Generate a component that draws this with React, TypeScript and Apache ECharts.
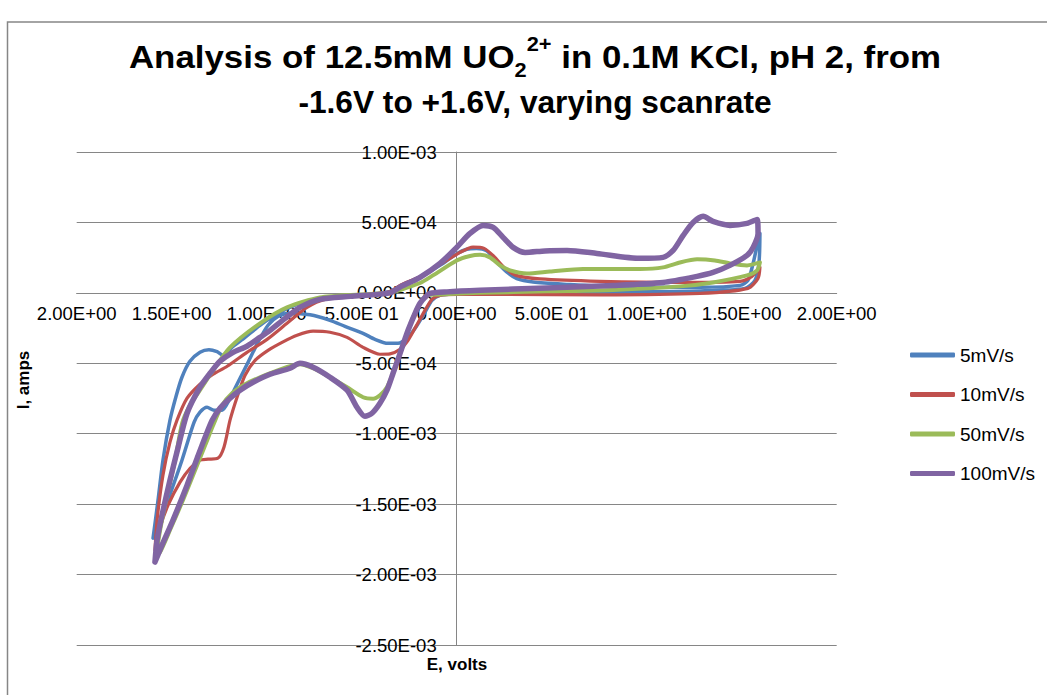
import React, { useEffect, useRef } from "react";
import * as echarts from "echarts";

// Tick labels as they appear in the picture
const xTickLabels = ["2.00E+00", "1.50E+00", "1.00E+00", "5.00E 01", "0.00E+00", "5.00E 01", "1.00E+00", "1.50E+00", "2.00E+00"];
const yTickLabels = ["-2.50E-03", "-2.00E-03", "-1.50E-03", "-1.00E-03", "-5.00E-04", "0.00E+00", "5.00E-04", "1.00E-03"];

const seriesNames = ["5mV/s", "10mV/s", "50mV/s", "100mV/s"];
const seriesColors = ["#4F81BD", "#C0504D", "#9BBB59", "#8064A2"];
const seriesWidths = [3.5, 3.2, 4, 5.5];

// [E (V), I (A)] — traced loops
const scan5: [number, number][] = [
  [-1.598, -1.741e-3], [-1.572, -1.472e-3], [-1.546, -1.188e-3], [-1.509, -9.04e-4], [-1.477, -7.34e-4],
  [-1.446, -5.99e-4], [-1.404, -4.86e-4], [-1.351, -4.22e-4], [-1.304, -4.04e-4], [-1.261, -4.18e-4],
  [-1.23, -4.43e-4], [-1.183, -3.87e-4], [-1.114, -3.16e-4], [-1.035, -2.3e-4], [-0.93, -1.38e-4],
  [-0.825, -7.4e-5], [-0.667, -3.2e-5], [-0.456, -1.8e-5], [-0.35, 1.0e-5], [-0.298, 5.0e-5],
  [-0.193, 1.12e-4], [-0.088, 1.95e-4], [0.0, 2.78e-4], [0.053, 3.1e-4], [0.105, 3.15e-4],
  [0.158, 2.98e-4], [0.211, 2.18e-4], [0.263, 1.48e-4], [0.316, 1.01e-4], [0.402, 7.7e-5],
  [0.579, 6.0e-5], [0.823, 4.3e-5], [1.281, 3.9e-5], [1.491, 5.3e-5], [1.533, 8.9e-5],
  [1.56, 2.09e-4], [1.581, 3.37e-4], [1.596, 4.22e-4], [1.591, 2.16e-4], [1.57, 8.9e-5],
  [1.517, 3.2e-5], [1.281, 1.4e-5], [0.754, 7e-6], [0.228, 0], [0.0, -7e-6],
  [-0.088, -1.8e-5], [-0.13, -5.3e-5], [-0.167, -1.38e-4], [-0.219, -2.52e-4], [-0.262, -3.23e-4],
  [-0.309, -3.58e-4], [-0.362, -3.58e-4], [-0.43, -3.3e-4], [-0.493, -2.87e-4], [-0.588, -2.38e-4],
  [-0.667, -1.95e-4], [-0.772, -1.56e-4], [-0.877, -1.45e-4], [-0.941, -1.67e-4], [-0.993, -2.3e-4],
  [-1.046, -3.51e-4], [-1.098, -4.93e-4], [-1.151, -6.35e-4], [-1.198, -7.62e-4], [-1.235, -8.33e-4],
  [-1.277, -8.33e-4], [-1.314, -8.12e-4], [-1.351, -8.47e-4], [-1.382, -9.18e-4], [-1.446, -1.188e-3],
  [-1.514, -1.45e-3], [-1.572, -1.663e-3], [-1.598, -1.741e-3],
];

const scan10: [number, number][] = [
  [-1.588, -1.826e-3], [-1.577, -1.613e-3], [-1.546, -1.294e-3], [-1.509, -1.06e-3], [-1.472, -9.04e-4],
  [-1.419, -7.48e-4], [-1.351, -6.49e-4], [-1.282, -5.78e-4], [-1.208, -5.21e-4], [-1.104, -4.22e-4],
  [-0.998, -3.3e-4], [-0.893, -2.16e-4], [-0.788, -1.03e-4], [-0.693, -4.6e-5], [-0.509, -1.8e-5],
  [-0.35, 1.0e-5], [-0.298, 5.3e-5], [-0.193, 1.15e-4], [-0.088, 2.0e-4], [0.017, 2.87e-4],
  [0.086, 3.25e-4], [0.144, 3.16e-4], [0.196, 2.59e-4], [0.249, 1.81e-4], [0.312, 1.24e-4],
  [0.438, 9.9e-5], [0.754, 8.2e-5], [1.175, 7.4e-5], [1.491, 8.2e-5], [1.554, 1.17e-4],
  [1.596, 1.81e-4], [1.586, 1.03e-4], [1.533, 3.2e-5], [1.281, -4e-6], [0.754, -1.4e-5],
  [0.228, -1.1e-5], [0.0, -1.1e-5], [-0.088, -1.8e-5], [-0.13, -4.6e-5], [-0.167, -1.24e-4],
  [-0.214, -2.38e-4], [-0.256, -3.37e-4], [-0.298, -4.01e-4], [-0.351, -4.33e-4], [-0.404, -4.36e-4],
  [-0.493, -3.87e-4], [-0.577, -3.16e-4], [-0.667, -2.8e-4], [-0.756, -2.72e-4], [-0.84, -3.01e-4],
  [-0.919, -3.51e-4], [-0.993, -4.08e-4], [-1.061, -4.79e-4], [-1.114, -5.85e-4], [-1.156, -7.41e-4],
  [-1.193, -9.04e-4], [-1.225, -1.096e-3], [-1.257, -1.174e-3], [-1.309, -1.181e-3], [-1.351, -1.188e-3],
  [-1.403, -1.245e-3], [-1.456, -1.344e-3], [-1.519, -1.507e-3], [-1.561, -1.663e-3], [-1.588, -1.826e-3],
];

const scan50: [number, number][] = [
  [-1.582, -1.862e-3], [-1.561, -1.684e-3], [-1.524, -1.436e-3], [-1.482, -1.188e-3], [-1.445, -9.25e-4],
  [-1.404, -7.98e-4], [-1.366, -7.2e-4], [-1.282, -5.5e-4], [-1.193, -3.87e-4], [-1.035, -2.16e-4],
  [-0.893, -1.03e-4], [-0.72, -3.2e-5], [-0.509, -1.1e-5], [-0.35, 0], [-0.298, 2.0e-5],
  [-0.193, 7.0e-5], [-0.125, 1.24e-4], [0.0, 2.3e-4], [0.07, 2.62e-4], [0.123, 2.7e-4],
  [0.175, 2.52e-4], [0.228, 1.95e-4], [0.281, 1.6e-4], [0.37, 1.38e-4], [0.491, 1.52e-4],
  [0.665, 1.7e-4], [0.965, 1.7e-4], [1.086, 1.81e-4], [1.175, 2.16e-4], [1.265, 2.38e-4],
  [1.359, 2.3e-4], [1.438, 2.09e-4], [1.528, 1.95e-4], [1.596, 2.16e-4], [1.581, 1.6e-4],
  [1.528, 1.24e-4], [1.349, 7.4e-5], [1.175, 4.6e-5], [0.823, 2.1e-5], [0.475, 1.1e-5],
  [0.123, 0], [-0.088, -1.1e-5], [-0.156, -1.8e-5], [-0.193, -7.4e-5], [-0.23, -1.74e-4],
  [-0.261, -2.87e-4], [-0.298, -4.29e-4], [-0.335, -5.71e-4], [-0.367, -6.7e-4], [-0.404, -7.27e-4],
  [-0.44, -7.52e-4], [-0.493, -7.41e-4], [-0.577, -6.7e-4], [-0.667, -5.99e-4], [-0.756, -5.35e-4],
  [-0.825, -5.07e-4], [-0.877, -5.21e-4], [-0.956, -5.57e-4], [-1.035, -5.99e-4], [-1.114, -6.49e-4],
  [-1.182, -7.13e-4], [-1.235, -7.98e-4], [-1.282, -9.4e-4], [-1.324, -1.082e-3], [-1.377, -1.259e-3],
  [-1.441, -1.472e-3], [-1.509, -1.684e-3], [-1.561, -1.84e-3], [-1.582, -1.862e-3],
];

const scan100: [number, number][] = [
  [-1.588, -1.911e-3], [-1.577, -1.755e-3], [-1.551, -1.578e-3], [-1.509, -1.33e-3], [-1.466, -1.096e-3],
  [-1.419, -8.55e-4], [-1.351, -6.7e-4], [-1.298, -5.71e-4], [-1.246, -4.86e-4], [-1.177, -4.22e-4],
  [-1.104, -3.79e-4], [-1.035, -3.16e-4], [-0.982, -2.66e-4], [-0.903, -1.81e-4], [-0.825, -1.03e-4],
  [-0.72, -4.6e-5], [-0.561, -2.5e-5], [-0.35, 0], [-0.298, 4.1e-5], [-0.193, 1.1e-4],
  [-0.088, 2.09e-4], [0.0, 3.23e-4], [0.07, 4.22e-4], [0.139, 4.79e-4], [0.192, 4.65e-4],
  [0.244, 3.94e-4], [0.297, 3.23e-4], [0.36, 2.87e-4], [0.465, 2.98e-4], [0.581, 3.01e-4],
  [0.738, 2.8e-4], [0.965, 2.45e-4], [1.086, 2.52e-4], [1.139, 3.01e-4], [1.192, 4.08e-4],
  [1.244, 5.0e-4], [1.297, 5.43e-4], [1.349, 5.07e-4], [1.438, 4.79e-4], [1.528, 4.93e-4],
  [1.581, 5.21e-4], [1.586, 4.22e-4], [1.56, 3.23e-4], [1.528, 2.66e-4], [1.438, 1.95e-4],
  [1.349, 1.45e-4], [1.265, 1.17e-4], [1.086, 7.4e-5], [0.823, 5.3e-5], [0.475, 3.5e-5],
  [0.123, 1.8e-5], [-0.051, 7e-6], [-0.141, -4e-6], [-0.167, -3.2e-5], [-0.193, -7.4e-5],
  [-0.219, -1.45e-4], [-0.256, -2.66e-4], [-0.298, -4.29e-4], [-0.335, -5.71e-4], [-0.367, -6.91e-4],
  [-0.404, -7.84e-4], [-0.446, -8.55e-4], [-0.483, -8.76e-4], [-0.525, -8.12e-4], [-0.577, -6.91e-4],
  [-0.667, -5.99e-4], [-0.756, -5.28e-4], [-0.825, -5.0e-4], [-0.877, -5.35e-4], [-0.982, -5.78e-4],
  [-1.072, -6.35e-4], [-1.14, -6.91e-4], [-1.193, -7.48e-4], [-1.246, -8.19e-4], [-1.287, -9.04e-4],
  [-1.324, -1.025e-3], [-1.366, -1.174e-3], [-1.419, -1.365e-3], [-1.493, -1.613e-3], [-1.551, -1.791e-3],
  [-1.588, -1.911e-3],
];

const allScans = [scan5, scan10, scan50, scan100];

const X_MIN = -2, X_MAX = 2, X_STEP = 0.5;
const Y_MIN = -0.0025, Y_MAX = 0.001, Y_STEP = 0.0005;

const FONT = "'Liberation Sans', Arial, sans-serif";

// grid layout (px)
const G_LEFT = 76.7, G_RIGHT = 210.3, G_TOP = 152, G_BOTTOM = 50;
const G_W = 1047 - G_LEFT - G_RIGHT;
const G_H = 695 - G_TOP - G_BOTTOM;
// axes cross at zero: shift each axis from the grid edge to the other axis' zero
const X_AXIS_OFFSET = -(G_H * (0 - Y_MIN)) / (Y_MAX - Y_MIN);
const Y_AXIS_OFFSET = -(G_W * (0 - X_MIN)) / (X_MAX - X_MIN);

export default function App() {
  const ref = useRef<HTMLDivElement>(null);

  useEffect(() => {
    if (!ref.current) return;
    const chart = echarts.init(ref.current, null, { renderer: "svg" });
    const titleStyle = { fontFamily: FONT, fontWeight: "bold", fill: "#000" };
    const option: any = {
      animation: false,
      backgroundColor: "#ffffff",
      legend: {
        orient: "vertical",
        left: 910,
        top: 345,
        padding: 0,
        itemWidth: 45,
        itemHeight: 5,
        itemGap: 19.5,
        icon: "roundRect",
        textStyle: { fontFamily: FONT, fontSize: 19, color: "#000", lineHeight: 20 },
        data: seriesNames,
      },
      grid: {
        left: G_LEFT,
        right: G_RIGHT,
        top: G_TOP,
        bottom: G_BOTTOM,
        containLabel: false,
        outerBoundsMode: "none",
      },
      xAxis: {
        type: "value",
        min: X_MIN,
        max: X_MAX,
        interval: X_STEP,
        position: "bottom",
        offset: X_AXIS_OFFSET,
        axisLine: { onZero: false, lineStyle: { color: "#868686", width: 1 } },
        axisTick: { show: false },
        splitLine: { show: false },
        axisLabel: {
          showMinLabel: true,
          showMaxLabel: true,
          hideOverlap: false,
          margin: 11,
          fontFamily: FONT,
          fontSize: 18.5,
          color: "#000",
          formatter: (v: number) => xTickLabels[Math.round((v - X_MIN) / X_STEP)] ?? "",
        },
      },
      yAxis: {
        type: "value",
        min: Y_MIN,
        max: Y_MAX,
        interval: Y_STEP,
        position: "left",
        offset: Y_AXIS_OFFSET,
        axisLine: { onZero: false, lineStyle: { color: "#868686", width: 1 } },
        axisTick: { show: false },
        splitLine: { show: true, lineStyle: { color: "#868686", width: 1 } },
        axisLabel: {
          showMinLabel: true,
          showMaxLabel: true,
          hideOverlap: false,
          margin: 20,
          fontFamily: FONT,
          fontSize: 18.5,
          color: "#000",
          formatter: (v: number) => yTickLabels[Math.round((v - Y_MIN) / Y_STEP)] ?? "",
        },
      },
      series: allScans.map((d, i) => ({
        name: seriesNames[i],
        type: "line",
        data: d,
        showSymbol: false,
        symbol: "none",
        smooth: 0.25,
        color: seriesColors[i],
        lineStyle: { color: seriesColors[i], width: seriesWidths[i], cap: "round", join: "round" },
        z: 2 + i,
      })),
      graphic: [
        {
          type: "rect",
          shape: { x: 7.5, y: 22, width: 1100, height: 800 },
          style: { fill: "none", stroke: "#868686", lineWidth: 1.5 },
          z: -10,
        },
        {
          type: "text",
          x: 535,
          y: 57,
          scaleX: 1.09,
          style: {
            ...titleStyle,
            text: "{t|Analysis of 12.5mM UO}{sub|2}{sup|2+}{t| in 0.1M KCl, pH 2, from}",
            fontSize: 32,
            textAlign: "center",
            textVerticalAlign: "middle",
            rich: {
              t: { ...titleStyle, fontSize: 32, lineHeight: 46 },
              sub: { ...titleStyle, fontSize: 20, lineHeight: 28, verticalAlign: "bottom" },
              sup: { ...titleStyle, fontSize: 20, lineHeight: 26, verticalAlign: "top" },
            },
          },
        },
        {
          type: "text",
          x: 535,
          y: 102,
          scaleX: 0.99,
          style: {
            ...titleStyle,
            text: "-1.6V to +1.6V, varying scanrate",
            fontSize: 32,
            textAlign: "center",
            textVerticalAlign: "middle",
          },
        },
        {
          type: "text",
          x: 457,
          y: 664,
          style: { text: "E, volts", fontFamily: FONT, fontWeight: "bold", fontSize: 17, fill: "#000", textAlign: "center", textVerticalAlign: "middle" },
        },
        {
          type: "text",
          x: 23,
          y: 380,
          rotation: Math.PI / 2,
          style: { text: "I, amps", fontFamily: FONT, fontWeight: "bold", fontSize: 17, fill: "#000", textAlign: "center", textVerticalAlign: "middle" },
        },
      ],
    };
    chart.setOption(option);
    return () => chart.dispose();
  }, []);

  return (
    <div
      ref={ref}
      style={{ position: "fixed", left: 0, top: 0, width: 1047, height: 695, background: "#fff" }}
    />
  );
}
